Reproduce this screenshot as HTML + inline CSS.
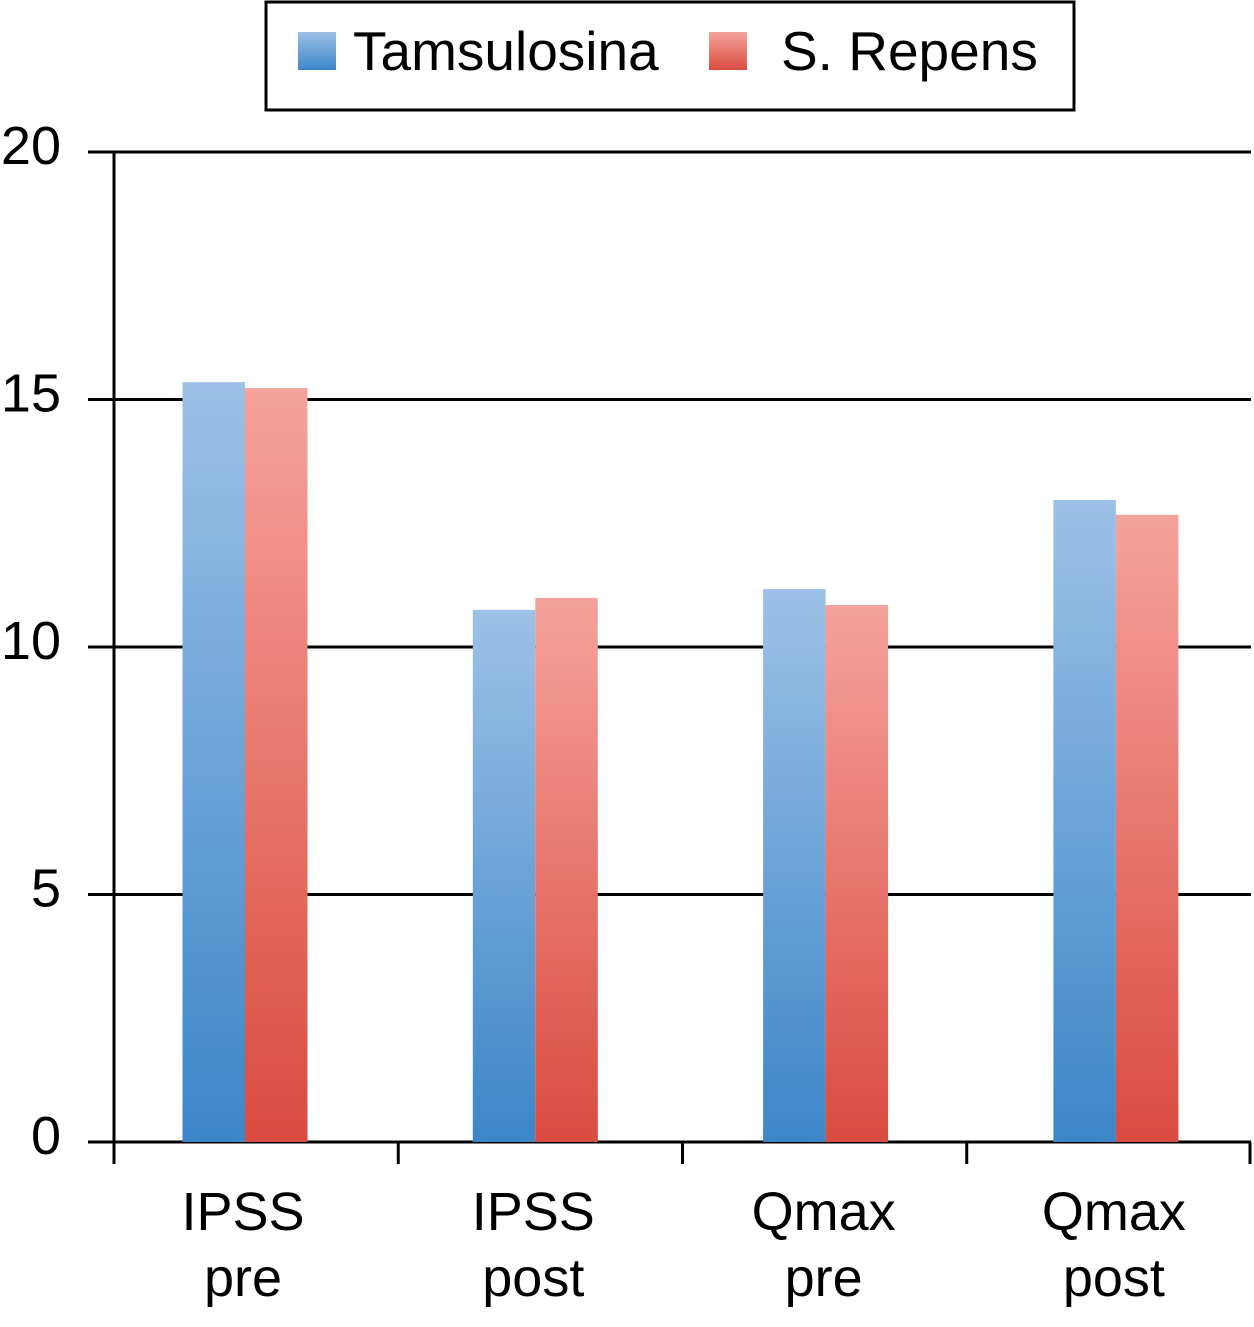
<!DOCTYPE html>
<html><head><meta charset="utf-8"><style>
body{margin:0;background:#fff;}
svg text{font-family:"Liberation Sans",sans-serif;fill:#000;}
</style></head><body>
<svg id="chart" width="1254" height="1322" viewBox="0 0 1254 1322">
<defs>
<linearGradient id="gb" x1="0" y1="0" x2="0" y2="1"><stop offset="0" stop-color="#9dc1e7"/><stop offset="1" stop-color="#3b86c9"/></linearGradient>
<linearGradient id="gr" x1="0" y1="0" x2="0" y2="1"><stop offset="0" stop-color="#f5a39c"/><stop offset="1" stop-color="#d94b40"/></linearGradient>
</defs>
<g>
<rect x="266" y="2" width="808" height="108" fill="#fff" stroke="#000" stroke-width="3"/>
<rect x="298" y="32" width="38" height="38" fill="url(#gb)"/>
<text x="353" y="70" font-size="55">Tamsulosina</text>
<rect x="709" y="32" width="38" height="38" fill="url(#gr)"/>
<text x="781" y="70" font-size="55">S. Repens</text>
</g>
<g id="grid"></g><g id="bars"></g><g id="axes"></g>
</svg>
<script>
const categories=[["IPSS","pre"],["IPSS","post"],["Qmax","pre"],["Qmax","post"]];
const tamsulosina=[15.35,10.75,11.17,12.97];
const sRepens=[15.23,10.99,10.85,12.67];
const yTicks=[0,5,10,15,20];
const NS="http://www.w3.org/2000/svg";
const x0=114,x1=1251,y0=1142,y1=152,yMax=20;
const y=v=>y0-(v/yMax)*(y0-y1);
const bw=(x1-x0)/categories.length;
const xc=i=>245+290.3*i;
function mk(tag,attrs,parent,text){const e=document.createElementNS(NS,tag);for(const k in attrs)e.setAttribute(k,attrs[k]);if(text!==undefined)e.textContent=text;document.getElementById(parent).appendChild(e);return e;}
yTicks.forEach(t=>{
 const l=mk('line',{x1:88,x2:x1,y1:y(t),y2:y(t),stroke:'#000','stroke-width':3},'grid');
 
 
 const tx=mk('text',{x:61,y:y(t)+12,'font-size':54,'text-anchor':'end'},'axes',String(t));
 
 
});
const barW=62.5;
categories.forEach((c,i)=>{
 const b=mk('rect',{x:xc(i)-barW,y:y(tamsulosina[i]),width:barW,height:y0-y(tamsulosina[i]),fill:'url(#gb)'},'bars');
 
 
 const r=mk('rect',{x:xc(i),y:y(sRepens[i]),width:barW,height:y0-y(sRepens[i]),fill:'url(#gr)'},'bars');
 
 
 const t1=mk('text',{x:xc(i)-2,y:1230,'font-size':54,'text-anchor':'middle'},'axes',c[0]);
 
 
 const t2=mk('text',{x:xc(i)-2,y:1296,'font-size':54,'text-anchor':'middle'},'axes',c[1]);
 
 
});
for(let i=0;i<=categories.length;i++){
 const xx=x0+bw*i-(i===categories.length?1:0);
 const tk=mk('line',{x1:xx,x2:xx,y1:y0,y2:1164,stroke:'#000','stroke-width':3},'axes');
 
 
}
const ya=mk('line',{x1:x0,x2:x0,y1:y1,y2:y0,stroke:'#000','stroke-width':3},'axes');


</script>
</body></html>
